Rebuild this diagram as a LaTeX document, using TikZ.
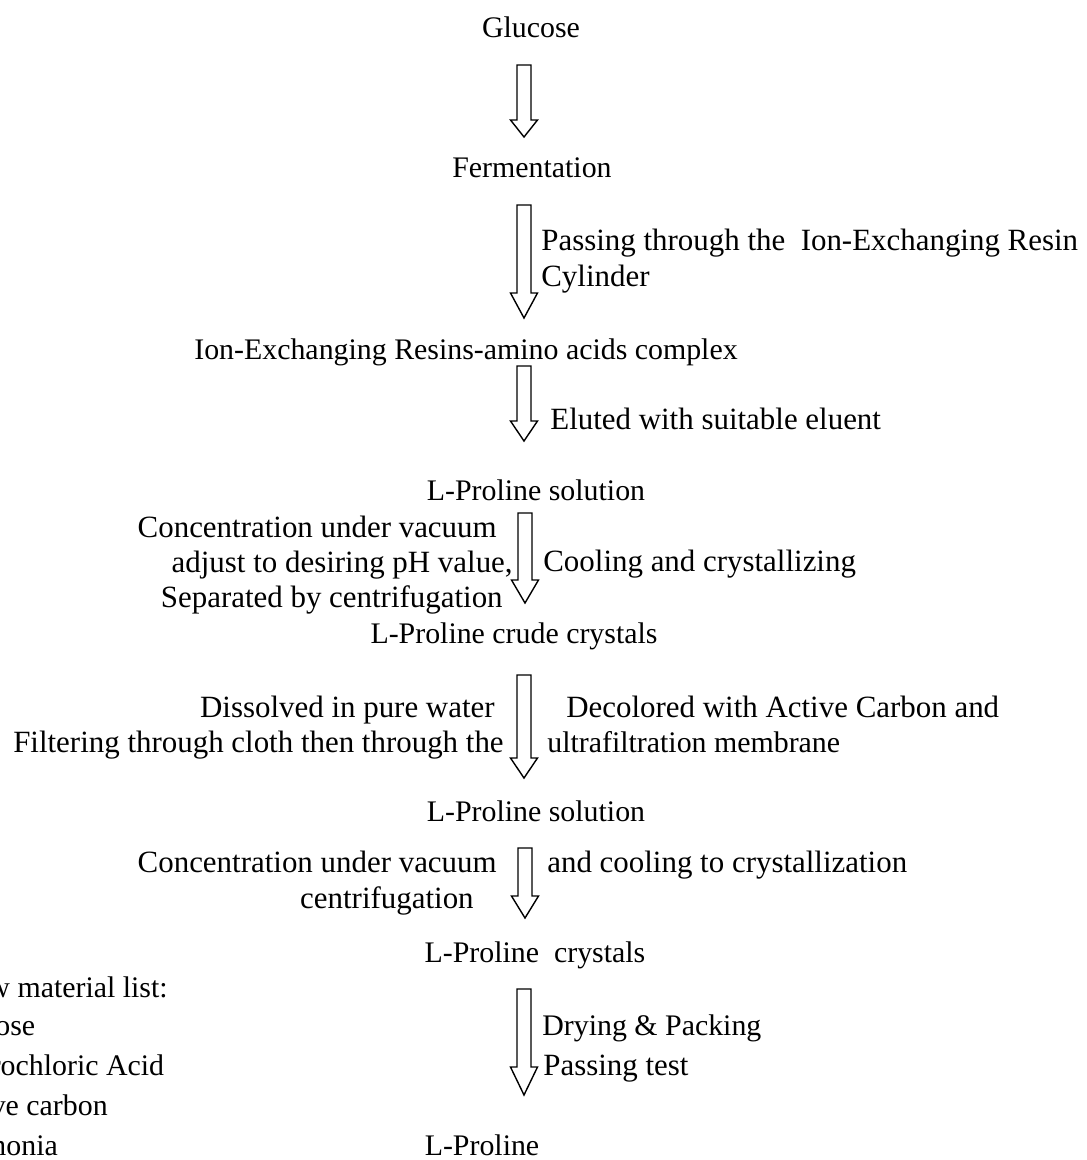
\documentclass[tikz,border=0pt]{standalone}
\usepackage{fontspec}
\setmainfont{Liberation Serif}
\usepackage{tikz}
\usetikzlibrary{calc,positioning}

% hollow block arrow: top point, tip point, head length
\newcommand{\hollowarrow}[3]{%
  \draw[procarrow] ($(#1)+(-7,0)$) -- ($(#2)+(-7,-#3)$) -- ($(#2)+(-13.5,-#3)$)
    -- (#2) -- ($(#2)+(13.5,-#3)$) -- ($(#2)+(7,-#3)$) -- ($(#1)+(7,0)$) -- cycle;}

\begin{document}
\begin{tikzpicture}[
    x=0.02cm, y=-0.02cm,
    % text styles
    stage/.style={inner sep=0pt, anchor=base, font=\fontsize{17}{20}\selectfont},
    leftnote/.style={inner sep=0pt, anchor=base east, font=\fontsize{17.6}{20}\selectfont},
    rightnote/.style={inner sep=0pt, anchor=base west, font=\fontsize{17.6}{20}\selectfont},
    listitem/.style={inner sep=0pt, anchor=base west, font=\fontsize{17}{20}\selectfont},
    % arrow style
    procarrow/.style={draw=black, line width=0.8pt, fill=white, line join=miter}
]
    \useasboundingbox (0,0) rectangle (1086,1160);
    \clip (0,0) rectangle (1086,1160);

    % Stages - main column
    \node[stage] (glucose) at (531,37) {Glucose};
    \node[stage] (ferment) at (532,177) {Fermentation};
    \node[stage] (complex) at (466,359) {Ion-Exchanging Resins-amino acids complex};
    \node[stage] (solA) at (536,500) {L-Proline solution};
    \node[stage] (crude) at (514,643) {L-Proline crude crystals};
    \node[stage] (solB) at (536,821) {L-Proline solution};
    \node[stage] (crystals) at (535,962) {L-Proline\ \ crystals};
    \node[stage] (product) at (482,1155) {L-Proline};

    % Arrow end points
    \coordinate (a1top) at (524,65);   \coordinate (a1tip) at (524,137);
    \coordinate (a2top) at (524,205);  \coordinate (a2tip) at (524,318);
    \coordinate (a3top) at (524,366);  \coordinate (a3tip) at (524,441);
    \coordinate (a4top) at (525,513);  \coordinate (a4tip) at (525,603);
    \coordinate (a5top) at (524,675);  \coordinate (a5tip) at (524,778);
    \coordinate (a6top) at (525,848);  \coordinate (a6tip) at (525,918);
    \coordinate (a7top) at (524,989);  \coordinate (a7tip) at (524,1095);

    % Arrows
    \hollowarrow{a1top}{a1tip}{17}
    \hollowarrow{a2top}{a2tip}{25}
    \hollowarrow{a3top}{a3tip}{20}
    \hollowarrow{a4top}{a4tip}{23}
    \hollowarrow{a5top}{a5tip}{20}
    \hollowarrow{a6top}{a6tip}{22}
    \hollowarrow{a7top}{a7tip}{28}

    % Step notes
    \node[rightnote] (passing) at (541,250) {Passing through the\ \ Ion-Exchanging Resin};
    \node[rightnote] (cylinder) at (541,286) {Cylinder};
    \node[rightnote] (eluted) at (550,429) {Eluted with suitable eluent};
    \node[leftnote] (concA) at (497,537) {Concentration under vacuum};
    \node[leftnote] (adjust) at (513,572) {adjust to desiring pH value,};
    \node[leftnote] (separated) at (503,607) {Separated by centrifugation};
    \node[rightnote] (cooling) at (543,571) {Cooling and crystallizing};
    \node[leftnote] (dissolved) at (495,717) {Dissolved in pure water};
    \node[leftnote] (filtering) at (504,752) {Filtering through cloth then through the};
    \node[rightnote] (decolored) at (566,717) {Decolored with Active Carbon and};
    \node[rightnote, font=\fontsize{17}{20}\selectfont] (ultra) at (547,752) {ultrafiltration membrane};
    \node[leftnote] (concB) at (497,872) {Concentration under vacuum};
    \node[rightnote] (andcool) at (547,872) {and cooling to crystallization};
    \node[leftnote] (centri) at (474,908) {centrifugation};
    \node[rightnote, font=\fontsize{17}{20}\selectfont] (drying) at (542,1035) {Drying \& Packing};
    \node[rightnote] (passtest) at (543,1075) {Passing test};

    % Raw material list (cut at the left edge)
    \node[inner sep=0pt, anchor=base east, font=\fontsize{17}{20}\selectfont] (rawlist) at (168,997) {Raw material list:};
    \node[listitem] (itemA) at (-63,1035) {Glucose};
    \node[listitem] (itemB) at (-61,1075) {Hydrochloric Acid};
    \node[listitem] (itemC) at (-61,1115) {Active carbon};
    \node[listitem] (itemD) at (-62,1155) {Ammonia};
\end{tikzpicture}
\end{document}
